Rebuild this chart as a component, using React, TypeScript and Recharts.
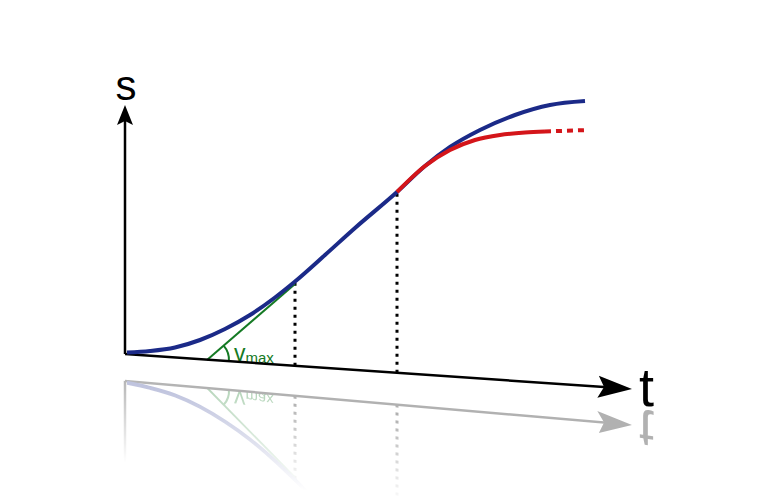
import { Line, LineChart, ReferenceLine, XAxis, YAxis } from "recharts";

// s(t) curve, blue (full drive)
const blueT = [0.04, 0.5, 1.0, 1.5, 2.0, 2.5, 3.0, 3.4, 4.0, 4.6, 5.44, 6.0, 6.5, 7.1, 7.8, 8.5, 9.2];
const blueS = [0.03, 0.06, 0.13, 0.28, 0.5, 0.78, 1.13, 1.45, 1.98, 2.52, 3.24, 3.76, 4.14, 4.48, 4.78, 4.98, 5.06];

// red branch (braking) and its dotted tail
const redT = [5.44, 6.0, 6.5, 7.0, 7.5, 8.0, 8.4];
const redS = [3.24, 3.76, 4.08, 4.28, 4.38, 4.43, 4.45];
const redTailT = [8.4, 9.26];
const redTailS = [4.45, 4.48];

// axes (t axis is drawn slanted, as in the source sketch)
const sAxisEnd = { t: 0, s: 4.98 };
const tAxisEnd = { t: 10.14, s: -0.7 };

// tangent for v_max and the two dotted markers
const tangentT = [1.64, 3.4];
const tangentS = [-0.12, 1.4];
const markerT = [3.4, 5.44];
const markerTop = [1.44, 3.24];
const markerBottom = [-0.235, -0.375];

const toRows = (ts: number[], ss: number[]) => ts.map((t, i) => ({ t, s: ss[i] }));

const blueData = toRows(blueT, blueS);
const redData = toRows(redT, redS);
const redTailData = toRows(redTailT, redTailS);

const W = 765;
const H = 496;
const FONT = "'Liberation Sans', Arial, sans-serif";

type ArrowOpts = {
  head: number;
  half: number;
  notch: number;
  width: number;
  label?: string;
  fontSize: number;
  dx: number;
  dy: number;
  anchor: "start" | "middle";
};

const arrowShape = (o: ArrowOpts) => (p: any) => {
  const { x1, y1, x2, y2 } = p;
  const len = Math.hypot(x2 - x1, y2 - y1);
  const ux = (x2 - x1) / len;
  const uy = (y2 - y1) / len;
  const bx = x2 - ux * o.head;
  const by = y2 - uy * o.head;
  const mx = x2 - ux * (o.head - o.notch);
  const my = y2 - uy * (o.head - o.notch);
  return (
    <g>
      <line x1={x1} y1={y1} x2={mx} y2={my} stroke="#000" strokeWidth={o.width} />
      <polygon
        points={`${x2},${y2} ${bx - uy * o.half},${by + ux * o.half} ${mx},${my} ${bx + uy * o.half},${by - ux * o.half}`}
        fill="#000"
      />
      {o.label ? (
        <text x={x2 + o.dx} y={y2 + o.dy} fontSize={o.fontSize} fontFamily={FONT} textAnchor={o.anchor} fill="#000">
          {o.label}
        </text>
      ) : null}
    </g>
  );
};

const tangentShape = (p: any) => {
  const { x1, y1, x2, y2 } = p;
  const r = 22;
  const a1 = Math.atan(0.069);
  const a2 = Math.atan2(y2 - y1, x2 - x1);
  return (
    <g>
      <line x1={x1} y1={y1} x2={x2} y2={y2} stroke="#157a24" strokeWidth={2} />
      <path
        d={`M ${x1 + r * Math.cos(a1)} ${y1 + r * Math.sin(a1)} A ${r} ${r} 0 0 0 ${x1 + r * Math.cos(a2)} ${y1 + r * Math.sin(a2)}`}
        fill="none"
        stroke="#157a24"
        strokeWidth={2}
      />
      <text x={x1 + 27} y={y1 + 1} fill="#157a24" fontFamily={FONT} fontSize={23}>
        v
        <tspan fontSize={15} dy={2}>
          max
        </tspan>
      </text>
    </g>
  );
};

const Diagram = ({ mirror = false }: { mirror?: boolean }) => (
  <LineChart width={W} height={H} margin={{ top: 0, right: 0, bottom: 0, left: 0 }}>
    <XAxis type="number" dataKey="t" domain={[-2.5, 12.8]} hide allowDataOverflow />
    <YAxis type="number" dataKey="s" domain={[-2.84, 7.08]} hide allowDataOverflow />
    {markerT.map((t, i) => (
      <ReferenceLine
        key={t}
        segment={[
          { x: t, y: markerBottom[i] },
          { x: t, y: markerTop[i] },
        ]}
        stroke="#000"
        strokeWidth={3}
        strokeDasharray="3 5"
        ifOverflow="visible"
      />
    ))}
    <ReferenceLine
      segment={[
        { x: tangentT[0], y: tangentS[0] },
        { x: tangentT[1], y: tangentS[1] },
      ]}
      ifOverflow="visible"
      shape={tangentShape}
    />
    <ReferenceLine
      segment={[
        { x: 0, y: 0 },
        { x: sAxisEnd.t, y: sAxisEnd.s },
      ]}
      ifOverflow="visible"
      shape={arrowShape({
        head: 20,
        half: 8,
        notch: 4,
        width: 2.5,
        label: mirror ? undefined : "s",
        fontSize: 42,
        dx: 1,
        dy: -5,
        anchor: "middle",
      })}
    />
    <ReferenceLine
      segment={[
        { x: 0, y: 0 },
        { x: tAxisEnd.t, y: tAxisEnd.s },
      ]}
      ifOverflow="visible"
      shape={arrowShape({ head: 34, half: 11, notch: 6, width: 2.5, label: "t", fontSize: 54, dx: 7, dy: 17, anchor: "start" })}
    />
    <Line
      data={blueData}
      dataKey="s"
      type="monotone"
      stroke="#1b2a88"
      strokeWidth={4}
      dot={false}
      activeDot={false}
      isAnimationActive={false}
    />
    <Line
      data={redData}
      dataKey="s"
      type="monotone"
      stroke="#d4151a"
      strokeWidth={4}
      dot={false}
      activeDot={false}
      isAnimationActive={false}
    />
    <Line
      data={redTailData}
      dataKey="s"
      type="linear"
      stroke="#d4151a"
      strokeWidth={4}
      strokeDasharray="6 5"
      dot={false}
      activeDot={false}
      isAnimationActive={false}
    />
  </LineChart>
);

const fade = "linear-gradient(to bottom, transparent 0px, transparent 272px, #000 360px)";

const App = () => (
  <div style={{ position: "absolute", left: 0, top: 0, width: W, height: H, overflow: "hidden", background: "#fff" }}>
    <div style={{ position: "absolute", left: 0, top: 0 }}>
      <Diagram />
    </div>
    <div
      style={{
        position: "absolute",
        left: 0,
        top: 0,
        opacity: 0.3,
        transformOrigin: "0 0",
        transform: "matrix(1, 0.1558, 0, -1, 0, 715.5)",
        maskImage: fade,
        WebkitMaskImage: fade,
      }}
    >
      <Diagram mirror />
    </div>
  </div>
);

export default App;
